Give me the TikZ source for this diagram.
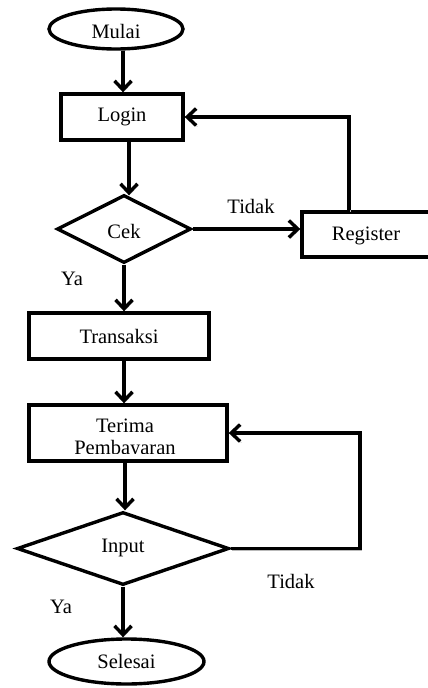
\documentclass[tikz,border=0pt]{standalone}
\usepackage{fontspec}
\setmainfont{Liberation Serif}
\usetikzlibrary{shapes.geometric,arrows.meta}
\tikzset{
  base/.style={draw=black, line width=3.4pt, inner sep=0pt, font=\fontsize{20.5}{24}\selectfont},
  term/.style={base, ellipse},
  proc/.style={base, rectangle},
  deci/.style={base, diamond},
  lbl/.style={inner sep=0pt, font=\fontsize{20.5}{24}\selectfont},
  arr/.style={line width=3.4pt, -{Straight Barb[length=9pt,width=17pt]},
    preaction={draw=gray!55, transform canvas={shift={(1.3pt,-1.3pt)}}}},
}
\begin{document}
\begin{tikzpicture}[x=1pt,y=-1pt]
\useasboundingbox (0,0) rectangle (428,688);
% nodes
\node[term, minimum width=134pt, minimum height=40pt] (mulai) at (116,29) {};
\node[lbl] (tmulai) at (116,31) {Mulai};
\node[proc, minimum width=122pt, minimum height=46pt] (login) at (122,117) {Login};
\node[deci, minimum width=134pt, minimum height=68pt] (cek) at (124,229) {};
\node[lbl] (tcek) at (124,231) {Cek};
\node[proc, minimum width=136pt, minimum height=45pt] (register) at (370,234.5) {};
\node[lbl] (treg) at (366,236) {Register};
\node[proc, minimum width=180pt, minimum height=46pt] (transaksi) at (119,336) {Transaksi};
\node[proc, minimum width=198pt, minimum height=56pt] (terima) at (128,433) {};
\begin{scope}
  \clip (20,405) rectangle (240,453);
  \node[lbl, align=center] (tterima) at (125,439) {Terima\\[-2pt]Pembayaran};
\end{scope}
\node[deci, minimum width=212pt, minimum height=73pt] (input) at (123,548.5) {};
\node[lbl] (tinput) at (123,548) {Input};
\node[term, minimum width=155pt, minimum height=45pt] (selesai) at (126.5,661.5) {Selesai};
% labels
\node[lbl] (tidak1) at (251,206) {Tidak};
\node[lbl] (ya1) at (72,279) {Ya};
\node[lbl] (tidak2) at (291,581) {Tidak};
\node[lbl] (ya2) at (61,607) {Ya};
% connectors
\coordinate (c1) at (123,0);
\coordinate (c2) at (129,0);
\coordinate (c3) at (124,0);
\coordinate (c4) at (125,0);
\coordinate (c5) at (349,0);
\coordinate (c6) at (360,0);
\draw[arr] (mulai.south -| c1) -- (login.north -| c1);
\draw[arr] (login.south -| c2) -- ([yshift=-2pt]cek.north -| c2);
\draw[arr] (cek.east) -- (cek.east -| register.west);
\draw[arr] (register.north -| c5) |- (login.east);
\draw[arr] (cek.south) -- (cek.south |- transaksi.north);
\draw[arr] (transaksi.south -| c3) -- (terima.north -| c3);
\draw[arr] (terima.south -| c4) -- (input.north -| c4);
\draw[arr] (input.east) -| (c6 |- terima.east) -- (terima.east);
\draw[arr] (input.south) -- (input.south |- selesai.north);
\end{tikzpicture}
\end{document}
